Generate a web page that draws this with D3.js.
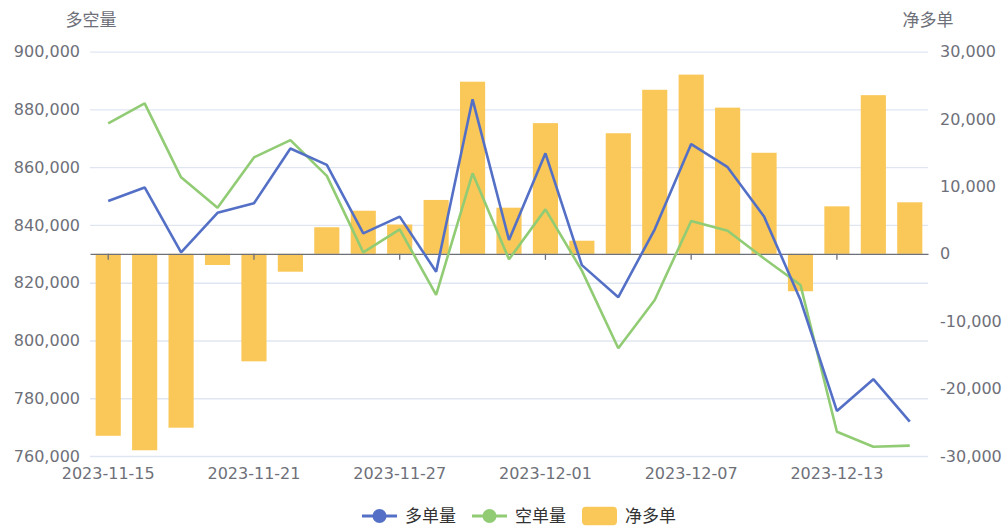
<!DOCTYPE html>
<html>
<head>
<meta charset="utf-8">
<script src="https://cdn.jsdelivr.net/npm/d3@7/dist/d3.min.js"></script>
<style>
  html, body { margin: 0; padding: 0; background: #fff; }
  svg { display: block; font-family: "DejaVu Sans", "Noto Sans CJK SC", sans-serif; }
  svg text { font-family: "DejaVu Sans", "Noto Sans CJK SC", sans-serif; }
</style>
</head>
<body>
<div id="chart"></div>
<script>
// trading days on the category axis
const dates = ['2023-11-15','2023-11-16','2023-11-17','2023-11-20','2023-11-21','2023-11-22','2023-11-23','2023-11-24',
  '2023-11-27','2023-11-28','2023-11-29','2023-11-30','2023-12-01','2023-12-04','2023-12-05','2023-12-06',
  '2023-12-07','2023-12-08','2023-12-11','2023-12-12','2023-12-13','2023-12-14','2023-12-15'];

// 多单量 (left axis)
const longVol = [848300, 853000, 830500, 844200, 847500, 866500, 860800, 837100, 842900, 823800, 883500, 834800,
  864800, 826100, 815000, 838500, 868000, 860000, 842900, 814000, 775600, 786600, 771900];

// 空单量 (left axis)
const shortVol = [875200, 882100, 856500, 846000, 863400, 869400, 857000, 830500, 838500, 815800, 857900, 828100,
  845400, 824200, 797300, 814000, 841400, 838000, 828400, 819200, 768400, 763200, 763600];

// 净多单 (right axis, bars)
const netVol = [-27000, -29150, -25800, -1650, -15950, -2650, 3950, 6400, 4350, 8000, 25550, 6850,
  19400, 1950, 17900, 24350, 26600, 21700, 15000, -5550, 7050, 23550, 7650];

const leftTicks = [760000, 780000, 800000, 820000, 840000, 860000, 880000, 900000];
const rightTicks = [-30000, -20000, -10000, 0, 10000, 20000, 30000];

const W = 1003, H = 526;
const m = { left: 90, right: 928, top: 51.7, bottom: 456 };
const FONT = '"DejaVu Sans", "Noto Sans CJK SC", sans-serif';

const fmt = d3.formatLocale({ decimal: '.', thousands: ',', grouping: [3], currency: ['', ''], minus: '-' }).format(',');

const svg = d3.select('#chart').append('svg')
  .attr('width', W)
  .attr('height', H);

const x = d3.scaleBand()
  .domain(dates)
  .range([m.left, m.right])
  .paddingInner(0.31)
  .paddingOuter(0.155);

const yL = d3.scaleLinear().domain([760000, 900000]).range([m.bottom, m.top]);
const yR = d3.scaleLinear().domain([-30000, 30000]).range([m.bottom, m.top]);

const cx = d => x(d) + x.bandwidth() / 2;

const styleText = g => g.attr('font-family', FONT)
  .selectAll('text').attr('fill', '#6E7079').style('font-size', '16px');

// grid lines (left axis only)
svg.append('g')
  .attr('transform', `translate(${m.left},0)`)
  .call(d3.axisRight(yL).tickValues(leftTicks).tickSize(m.right - m.left).tickFormat(''))
  .call(g => g.select('.domain').remove())
  .call(g => g.selectAll('line').attr('stroke', '#E0E6F1').attr('stroke-width', 1.3));

// bars
svg.append('g')
  .selectAll('rect')
  .data(netVol)
  .join('rect')
  .attr('x', (d, i) => x(dates[i]))
  .attr('width', x.bandwidth())
  .attr('y', d => Math.min(yR(d), yR(0)))
  .attr('height', d => Math.abs(yR(d) - yR(0)))
  .attr('fill', '#fac858');

// category axis line sitting on the right axis zero
svg.append('g')
  .attr('transform', `translate(0,${yR(0)})`)
  .call(d3.axisBottom(x).tickValues(dates.filter((d, i) => i % 4 === 0)).tickSize(6).tickSizeOuter(0).tickFormat(''))
  .call(g => g.select('.domain').attr('stroke', '#6E7079').attr('stroke-width', 1.3))
  .call(g => g.selectAll('.tick line').attr('stroke', '#6E7079').attr('stroke-width', 1.3));

// category labels at the bottom of the grid
svg.append('g')
  .attr('transform', `translate(0,${m.bottom})`)
  .call(d3.axisBottom(x).tickValues(dates.filter((d, i) => i % 4 === 0)).tickSize(0).tickPadding(12))
  .call(g => g.select('.domain').remove())
  .call(styleText);

// left axis labels
svg.append('g')
  .attr('transform', `translate(${m.left},0)`)
  .call(d3.axisLeft(yL).tickValues(leftTicks).tickSize(0).tickPadding(10).tickFormat(fmt))
  .call(g => g.select('.domain').remove())
  .call(styleText);

// right axis labels
svg.append('g')
  .attr('transform', `translate(${m.right},0)`)
  .call(d3.axisRight(yR).tickValues(rightTicks).tickSize(0).tickPadding(12).tickFormat(fmt))
  .call(g => g.select('.domain').remove())
  .call(styleText);

// axis names
svg.append('text').attr('x', 91).attr('y', 20).attr('text-anchor', 'middle').attr('dominant-baseline', 'central')
  .attr('fill', '#6E7079').style('font-size', '17px').text('多空量');
svg.append('text').attr('x', 928).attr('y', 20).attr('text-anchor', 'middle').attr('dominant-baseline', 'central')
  .attr('fill', '#6E7079').style('font-size', '17px').text('净多单');

// lines
const line = d3.line()
  .x((d, i) => cx(dates[i]))
  .y(d => yL(d));

svg.append('path').datum(shortVol)
  .attr('fill', 'none').attr('stroke', '#91cc75').attr('stroke-width', 2.6).attr('stroke-linejoin', 'bevel')
  .attr('d', line);
svg.append('path').datum(longVol)
  .attr('fill', 'none').attr('stroke', '#5470c6').attr('stroke-width', 2.6).attr('stroke-linejoin', 'bevel')
  .attr('d', line);

// legend
const legendItems = [
  { name: '多单量', color: '#5470c6', type: 'line' },
  { name: '空单量', color: '#91cc75', type: 'line' },
  { name: '净多单', color: '#fac858', type: 'bar' }
];
const ly = 516;
let lx = 362;
const legend = svg.append('g');
legendItems.forEach(it => {
  const g = legend.append('g');
  if (it.type === 'line') {
    g.append('line').attr('x1', lx).attr('x2', lx + 35).attr('y1', ly).attr('y2', ly)
      .attr('stroke', it.color).attr('stroke-width', 3);
    g.append('circle').attr('cx', lx + 17.5).attr('cy', ly).attr('r', 7).attr('fill', it.color);
  } else {
    g.append('rect').attr('x', lx).attr('y', ly - 9.3).attr('width', 35).attr('height', 18.6)
      .attr('rx', 4).attr('fill', it.color);
  }
  const t = g.append('text').attr('x', lx + 43).attr('y', ly).attr('dominant-baseline', 'central')
    .attr('fill', '#333').style('font-size', '17px').text(it.name);
  lx += 43 + t.node().getComputedTextLength() + 16;
});
</script>
</body>
</html>
